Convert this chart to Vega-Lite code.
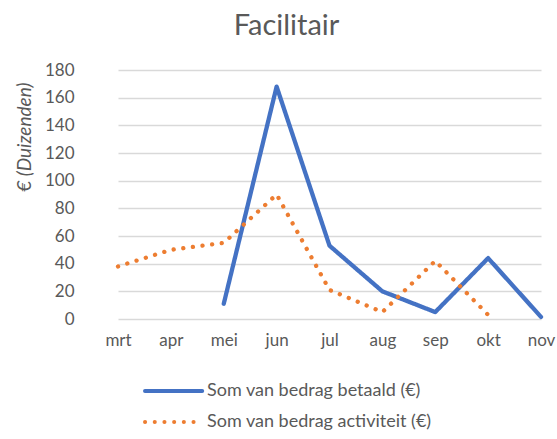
{
  "$schema": "https://vega.github.io/schema/vega-lite/v6.json",
  "width": 465,
  "height": 249,
  "autosize": {"type": "none"},
  "padding": {"left": 92, "top": 70, "right": 0, "bottom": 120},
  "background": "white",
  "title": {"text": "Facilitair", "font": "Lato", "fontSize": 29, "fontWeight": "normal", "color": "#595959", "offset": 20, "dx": -38},
  "config": {"view": {"stroke": null}},
  "data": {
    "values": [
      {"maand": "mei", "reeks": "Som van bedrag betaald (€)", "waarde": 11},
      {"maand": "jun", "reeks": "Som van bedrag betaald (€)", "waarde": 168},
      {"maand": "jul", "reeks": "Som van bedrag betaald (€)", "waarde": 53},
      {"maand": "aug", "reeks": "Som van bedrag betaald (€)", "waarde": 20},
      {"maand": "sep", "reeks": "Som van bedrag betaald (€)", "waarde": 5},
      {"maand": "okt", "reeks": "Som van bedrag betaald (€)", "waarde": 44},
      {"maand": "nov", "reeks": "Som van bedrag betaald (€)", "waarde": 1.5},
      {"maand": "mrt", "reeks": "Som van bedrag activiteit (€)", "waarde": 38},
      {"maand": "apr", "reeks": "Som van bedrag activiteit (€)", "waarde": 50},
      {"maand": "mei", "reeks": "Som van bedrag activiteit (€)", "waarde": 55},
      {"maand": "jun", "reeks": "Som van bedrag activiteit (€)", "waarde": 90},
      {"maand": "jul", "reeks": "Som van bedrag activiteit (€)", "waarde": 21},
      {"maand": "aug", "reeks": "Som van bedrag activiteit (€)", "waarde": 5},
      {"maand": "sep", "reeks": "Som van bedrag activiteit (€)", "waarde": 42},
      {"maand": "okt", "reeks": "Som van bedrag activiteit (€)", "waarde": 3}
    ]
  },
  "mark": {"type": "line", "strokeWidth": 4.3, "strokeCap": "round", "strokeJoin": "round"},
  "encoding": {
    "x": {
      "field": "maand",
      "type": "ordinal",
      "sort": ["mrt", "apr", "mei", "jun", "jul", "aug", "sep", "okt", "nov"],
      "scale": {"type": "point", "padding": 0, "range": [26, 449]},
      "axis": {"title": null, "domain": false, "ticks": false, "grid": false, "labelAngle": 0, "labelFont": "Lato", "labelFontSize": 17, "labelColor": "#595959", "labelPadding": 13}
    },
    "y": {
      "field": "waarde",
      "type": "quantitative",
      "scale": {"domain": [0, 180]},
      "axis": {
        "values": [0, 20, 40, 60, 80, 100, 120, 140, 160, 180],
        "domain": false, "ticks": false, "grid": true, "gridColor": "#d9d9d9", "gridWidth": 1.5,
        "labelFont": "Lato", "labelFontSize": 17, "labelColor": "#595959", "labelPadding": 18,
        "title": "€ (Duizenden)", "titleFont": "Lato", "titleFontSize": 19, "titleFontStyle": "italic", "titleFontWeight": "normal", "titleColor": "#595959",
        "titleX": -68, "titleY": 12, "titleAlign": "right", "titleBaseline": "middle"
      }
    },
    "color": {
      "field": "reeks",
      "type": "nominal",
      "scale": {"domain": ["Som van bedrag betaald (€)", "Som van bedrag activiteit (€)"], "range": ["#4472C4", "#ED7D31"]},
      "legend": {"orient": "none", "legendX": 51, "legendY": 308, "direction": "vertical", "title": null, "symbolType": "M-1,0H4.2", "symbolSize": 484, "symbolStrokeWidth": 4, "labelFont": "Lato", "labelFontSize": 18, "labelColor": "#595959", "labelOffset": 38, "labelLimit": 0, "rowPadding": 9,
        "encode": {"symbols": {"update": {"strokeCap": {"value": "round"}, "fill": {"value": "transparent"}}}}}
    },
    "strokeDash": {
      "field": "reeks",
      "type": "nominal",
      "scale": {"domain": ["Som van bedrag betaald (€)", "Som van bedrag activiteit (€)"], "range": [[1, 0], [0.1, 9.6]]},
      "legend": {"orient": "none", "legendX": 51, "legendY": 308, "direction": "vertical", "title": null, "symbolType": "M-1,0H4.2", "symbolSize": 484, "symbolStrokeWidth": 4, "labelFont": "Lato", "labelFontSize": 18, "labelColor": "#595959", "labelOffset": 38, "labelLimit": 0, "rowPadding": 9,
        "encode": {"symbols": {"update": {"strokeCap": {"value": "round"}, "fill": {"value": "transparent"}}}}}
    }
  }
}
